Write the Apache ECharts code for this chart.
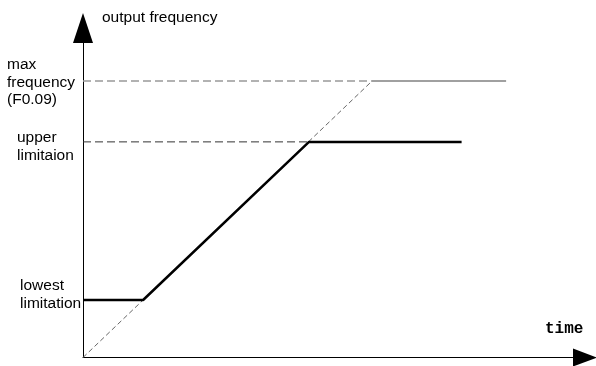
<!DOCTYPE html>
<html>
<head>
<meta charset="utf-8">
<script src="https://cdn.jsdelivr.net/npm/echarts@6/dist/echarts.min.js"></script>
<style>html,body{margin:0;padding:0;background:#fff;}#c{width:596px;height:366px;}</style>
</head>
<body>
<div id="c"></div>
<script>
// Data (time units, frequency units; max frequency = 100)
const outputTime = [0, 20.8, 78.2, 131];
const outputFreq = [20.8, 20.8, 78, 78];
const accelTime = [0, 100];
const accelFreq = [0, 100];
const maxDashTime = [0, 100];
const maxDashFreq = [100, 100];
const maxSolidTime = [100, 146.4];
const maxSolidFreq = [100, 100];
const upperDashTime = [0, 78.2];
const upperDashFreq = [78, 78];
const xAxisName = 'time';
const yAxisName = 'output frequency';
const maxLabel = ['max', 'frequency', '(F0.09)'];
const upperLabel = ['upper', 'limitaion'];
const lowestLabel = ['lowest', 'limitation'];

const pairs = (xs, ys) => xs.map((x, i) => [x, ys[i]]);

const chart = echarts.init(document.getElementById('c'), null, {renderer: 'canvas'});
const textFont = '"Liberation Sans", Arial, sans-serif';

function mk(lines, left, top) {
  return {
    type: 'text', left: left, top: top,
    style: {text: lines.join('\n'), font: '15.5px ' + textFont, fill: '#000', lineHeight: 17.5}
  };
}

chart.setOption({
  animation: false,
  backgroundColor: '#fff',
  grid: {left: 83, right: 11, top: 28, bottom: 8.5},
  xAxis: {
    type: 'value', min: 0, max: 173.7,
    axisLine: {show: true, lineStyle: {color: '#000', width: 1}, symbol: ['none', 'triangle'], symbolSize: [18, 24]},
    axisTick: {show: false}, axisLabel: {show: false}, splitLine: {show: false}
  },
  yAxis: {
    type: 'value', min: 0, max: 119.2,
    axisLine: {show: true, lineStyle: {color: '#000', width: 1}, symbol: ['none', 'triangle'], symbolSize: [20, 30]},
    axisTick: {show: false}, axisLabel: {show: false}, splitLine: {show: false}
  },
  graphic: [
    {type: 'text', left: 102, top: 10, style: {text: yAxisName, font: '15.5px ' + textFont, fill: '#000'}},
    {type: 'text', left: 545, top: 321, style: {text: xAxisName, font: 'bold 16px "Liberation Mono", "DejaVu Sans Mono", monospace', fill: '#000'}},
    mk(maxLabel, 7, 56),
    mk(upperLabel, 17, 129),
    mk(lowestLabel, 20, 277)
  ],
  series: [
    {type: 'line', data: pairs(maxDashTime, maxDashFreq), showSymbol: false, lineStyle: {color: '#999', width: 1.5, type: [8, 4]}},
    {type: 'line', data: pairs(maxSolidTime, maxSolidFreq), showSymbol: false, lineStyle: {color: '#a0a0a0', width: 2}},
    {type: 'line', data: pairs(accelTime, accelFreq), showSymbol: false, lineStyle: {color: '#666', width: 1, type: [5, 3]}},
    {type: 'line', data: pairs(upperDashTime, upperDashFreq), showSymbol: false, lineStyle: {color: '#333', width: 1, type: [8, 4]}},
    {type: 'line', data: pairs(outputTime, outputFreq), showSymbol: false, lineStyle: {color: '#000', width: 2.5}}
  ]
});
</script>
</body>
</html>
